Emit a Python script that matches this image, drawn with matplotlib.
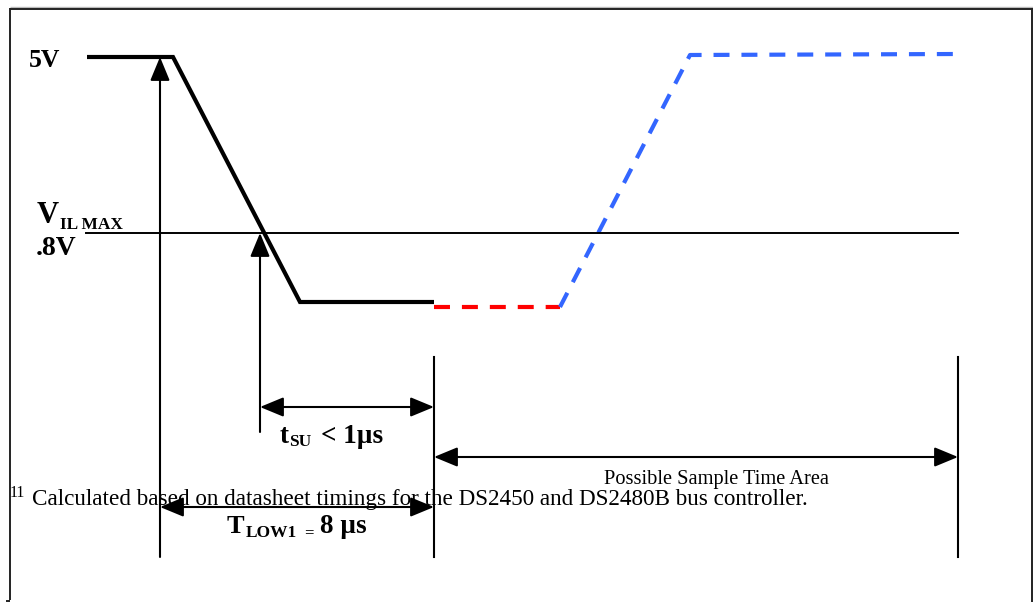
import matplotlib
matplotlib.use("Agg")
import matplotlib.pyplot as plt

plt.rcParams['lines.scale_dashes'] = False

# ---- data (diagram units: x to the right, y downward) ----
wave_x = [87, 173, 300, 434]          # black driven waveform
wave_y = [57, 57, 302, 302]
red_x = [434, 560]                    # red dashed (held low)
red_y = [307, 307]
blue_x = [560, 690, 958]              # blue dashed (release / rise)
blue_y = [307, 55, 54]
vil_x = [86, 958]
vil_y = [233, 233]

# vertical marker lines: (x, y_top, y_bottom)
v_markers = [(434, 357, 557), (958, 357, 557)]
# arrows: (x_tail, y_tail, x_tip, y_tip, style)
arrows = [
    (160, 557, 160, 57, '-|>'),
    (260, 432, 260, 233, '-|>'),
    (260, 407, 434, 407, '<|-|>'),
    (434, 457, 958, 457, '<|-|>'),
    (160, 507, 434, 507, '<|-|>'),
]

fig = plt.figure(figsize=(10.33, 6.02), dpi=100)
ax = fig.add_axes([0, 0, 1, 1])
ax.set_xlim(0, 1033)
ax.set_ylim(602, 0)
ax.axis('off')

# frame
ax.plot([10, 1033], [6.5, 6.5], color='#bbbbbb', lw=1.0, solid_capstyle='butt')
ax.plot([10, 1033], [8.5, 8.5], color='#222222', lw=1.4, solid_capstyle='butt')
ax.plot([10, 10], [8, 600], color='#222222', lw=1.4, solid_capstyle='butt')
ax.plot([1032, 1032], [8, 602], color='#222222', lw=1.4, solid_capstyle='butt')
ax.plot([6, 10], [600.5, 600.5], color='#222222', lw=1.4, solid_capstyle='butt')

# waveform
ax.plot(wave_x, wave_y, color='black', lw=3.0, solid_joinstyle='miter', solid_capstyle='butt')
ax.plot(red_x, red_y, color='#ff0000', lw=3.0, dashes=(11.5, 8.6), dash_capstyle='butt')
ax.plot(blue_x, blue_y, color='#3366ff', lw=3.0, dashes=(11.5, 8.6), dash_capstyle='butt')
ax.plot(vil_x, vil_y, color='black', lw=1.4)

for x, y0, y1 in v_markers:
    ax.plot([x, x], [y0, y1], color='black', lw=1.5)

for xt, yt, xh, yh, st in arrows:
    ax.annotate('', xy=(xh, yh), xytext=(xt, yt),
                arrowprops=dict(arrowstyle=f'{st},head_length=1.45,head_width=0.6',
                                color='black', lw=1.5, shrinkA=0, shrinkB=0))

serif = 'Liberation Serif'
def txt(x, y, s, size, bold=True):
    ax.text(x, y, s, fontsize=size, family=serif, fontweight='bold' if bold else 'normal',
            ha='left', va='baseline', color='black')

txt(29, 67, '5V', 18.5)
txt(37, 223, 'V', 22)
txt(60, 229, 'IL MAX', 12.5)
txt(36, 255, '.8V', 20)

txt(280, 443, 't', 19.5)
txt(289, 446, 'SU', 12.5)
txt(321, 443, '< 1\u00b5s', 19.5)

txt(227, 533, 'T', 19)
txt(246, 537, 'LOW1', 12.5)
txt(304, 537, '=', 12)
txt(320, 533, '8 \u00b5s', 19.5)

txt(604, 484, 'Possible Sample Time Area', 14.7, bold=False)
txt(10, 497, '11', 11.5, bold=False)
txt(32, 505, 'Calculated based on datasheet timings for the DS2450 and DS2480B bus controller.', 16.7, bold=False)

fig.savefig('out.png', dpi=100)
